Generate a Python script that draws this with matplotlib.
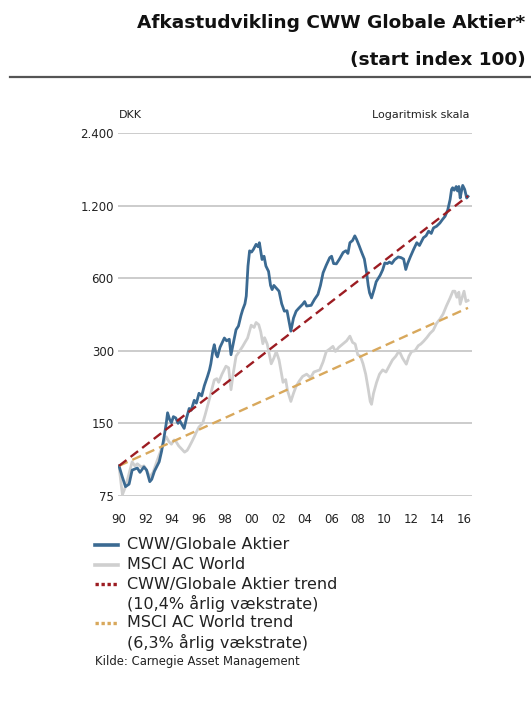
import matplotlib
matplotlib.use("Agg")
import matplotlib.pyplot as plt
from matplotlib.lines import Line2D

# ---------------- data ----------------
cww_years = [1990.0, 1990.25, 1990.49, 1990.76, 1990.99, 1991.19, 1991.38, 1991.58, 1991.88, 1992.08,
             1992.32, 1992.47, 1992.67, 1993.03, 1993.21, 1993.40, 1993.56, 1993.66, 1993.81, 1993.95,
             1994.10, 1994.28, 1994.45, 1994.55, 1994.75, 1994.91, 1995.09, 1995.29, 1995.44, 1995.67,
             1995.83, 1996.03, 1996.23, 1996.43, 1996.67, 1996.82, 1996.92, 1997.07, 1997.18, 1997.32,
             1997.42, 1997.61, 1997.94, 1998.11, 1998.31, 1998.44, 1998.60, 1998.82, 1999.0, 1999.19,
             1999.32, 1999.49, 1999.59, 1999.72, 1999.84, 1999.99, 2000.13, 2000.33, 2000.48, 2000.58,
             2000.78, 2000.93, 2001.07, 2001.27, 2001.42, 2001.54, 2001.67, 2001.86, 2002.06, 2002.26,
             2002.46, 2002.66, 2002.80, 2002.95, 2003.15, 2003.35, 2003.54, 2003.84, 2003.99, 2004.14,
             2004.48, 2004.73, 2004.99, 2005.18, 2005.38, 2005.62, 2005.88, 2006.02, 2006.17, 2006.38,
             2006.61, 2006.89, 2007.10, 2007.25, 2007.40, 2007.60, 2007.77, 2007.90, 2008.09, 2008.29,
             2008.49, 2008.66, 2008.78, 2008.88, 2009.03, 2009.23, 2009.38, 2009.54, 2009.68, 2009.87,
             2010.03, 2010.22, 2010.37, 2010.56, 2010.76, 2011.04, 2011.26, 2011.45, 2011.61, 2011.75,
             2011.95, 2012.20, 2012.44, 2012.64, 2012.94, 2013.14, 2013.33, 2013.53, 2013.70, 2013.93,
             2014.18, 2014.37, 2014.57, 2014.77, 2014.95, 2015.06, 2015.14, 2015.26, 2015.41, 2015.51,
             2015.61, 2015.71, 2015.81, 2015.90, 2016.05, 2016.20, 2016.30]
cww_values = [100, 90, 82, 84, 96, 97, 98, 94, 99, 96,
              86, 88, 95, 104, 115, 132, 150, 166, 156, 151,
              160, 158, 150, 155, 148, 143, 158, 173, 170, 187,
              182, 200, 195, 215, 235, 250, 265, 300, 318, 290,
              283, 310, 339, 330, 335, 289, 320, 367, 380, 420,
              444, 470, 506, 674, 779, 770, 790, 829, 810, 842,
              717, 740, 674, 640, 560, 538, 560, 545, 530, 470,
              438, 440, 400, 362, 410, 438, 450, 468, 480, 460,
              463, 490, 514, 560, 632, 680, 730, 740, 690, 688,
              720, 767, 780, 760, 842, 860, 899, 870, 820, 767,
              720, 632, 560, 522, 497, 540, 580, 600, 617, 650,
              694, 690, 700, 690, 715, 735, 730, 720, 652, 690,
              735, 790, 842, 820, 883, 900, 940, 920, 970, 985,
              1016, 1050, 1083, 1150, 1272, 1400, 1423, 1390, 1440, 1380,
              1440, 1290, 1380, 1455, 1400, 1290, 1310]

msci_years = [1990.0, 1990.15, 1990.26, 1990.49, 1990.74, 1990.99, 1991.19, 1991.38, 1991.68, 1991.88,
              1992.08, 1992.32, 1992.57, 1992.87, 1993.16, 1993.36, 1993.56, 1993.76, 1993.95, 1994.15,
              1994.30, 1994.50, 1994.75, 1994.94, 1995.14, 1995.29, 1995.49, 1995.67, 1995.83, 1996.03,
              1996.30, 1996.48, 1996.67, 1996.82, 1996.97, 1997.18, 1997.37, 1997.51, 1997.76, 1998.06,
              1998.26, 1998.44, 1998.60, 1998.82, 1999.10, 1999.32, 1999.49, 1999.69, 1999.96, 2000.18,
              2000.33, 2000.53, 2000.68, 2000.84, 2000.97, 2001.17, 2001.47, 2001.67, 2001.85, 2002.06,
              2002.36, 2002.56, 2002.70, 2002.95, 2003.15, 2003.35, 2003.59, 2003.84, 2004.14, 2004.44,
              2004.68, 2005.13, 2005.38, 2005.62, 2005.87, 2006.12, 2006.31, 2006.56, 2006.89, 2007.15,
              2007.40, 2007.60, 2007.80, 2007.99, 2008.19, 2008.39, 2008.59, 2008.79, 2008.93, 2009.03,
              2009.18, 2009.41, 2009.63, 2009.87, 2010.12, 2010.37, 2010.61, 2010.86, 2011.11, 2011.36,
              2011.65, 2011.85, 2012.05, 2012.30, 2012.55, 2012.74, 2012.94, 2013.19, 2013.43, 2013.68,
              2013.93, 2014.17, 2014.42, 2014.67, 2014.95, 2015.16, 2015.31, 2015.46, 2015.61, 2015.71,
              2015.86, 2016.00, 2016.15, 2016.30]
msci_values = [100, 85, 76, 82, 92, 104, 100, 102, 99, 100,
               96, 90, 94, 105, 116, 125, 132, 126, 123, 128,
               126, 121, 117, 114, 116, 120, 126, 132, 138, 145,
               150, 162, 177, 190, 205, 227, 230, 222, 240, 259,
               255, 207, 240, 285, 300, 313, 325, 339, 383, 375,
               393, 385, 360, 321, 340, 320, 265, 280, 298, 275,
               222, 228, 205, 185, 200, 214, 225, 235, 240, 232,
               245, 250, 270, 298, 305, 313, 298, 310, 321, 330,
               345, 325, 320, 289, 285, 265, 240, 207, 185, 180,
               200, 222, 240, 250, 245, 260, 275, 285, 300, 280,
               264, 285, 298, 300, 315, 320, 328, 340, 354, 365,
               390, 405, 426, 460, 497, 530, 530, 500, 525, 468,
               500, 530, 480, 485]

trend_years = [1990.0, 2016.3]
cww_trend = [100, 1315]
msci_trend = [100, 452]

y_ticks = [75, 150, 300, 600, 1200, 2400]
y_labels = ["75", "150", "300", "600", "1.200", "2.400"]
x_ticks = [1990, 1992, 1994, 1996, 1998, 2000, 2002, 2004, 2006, 2008, 2010, 2012, 2014, 2016]
x_labels = ["90", "92", "94", "96", "98", "00", "02", "04", "06", "08", "10", "12", "14", "16"]

legend_labels = ["CWW/Globale Aktier", "MSCI AC World", "CWW/Globale Aktier trend",
                 "(10,4% årlig vækstrate)", "MSCI AC World trend", "(6,3% årlig vækstrate)"]

# ---------------- style ----------------
BLUE = "#3b6a92"
GRAY = "#cfcfcf"
RED = "#9c1c22"
ORANGE = "#d8a85c"
GRID = "#c8c8c8"
TEXT = "#222222"
plt.rcParams["font.family"] = ["DejaVu Sans"]

W, H = 531, 708
fig = plt.figure(figsize=(W / 100, H / 100), dpi=100)


def fx(px):
    return px / W


def fy(py):
    return 1 - py / H


ax = fig.add_axes([fx(118), fy(496), fx(472) - fx(118), fy(133) - fy(496)])
ax.set_yscale("log")
ax.set_ylim(75, 2400)
ax.set_xlim(1989.925, 2016.60)
ax.set_yticks(y_ticks)
ax.set_yticklabels(y_labels)
ax.minorticks_off()
ax.set_xticks(x_ticks)
ax.set_xticklabels(x_labels)
ax.tick_params(axis="both", length=0, labelsize=8.5, colors=TEXT)
ax.tick_params(axis="y", pad=3)
ax.tick_params(axis="x", pad=12)
for s in ax.spines.values():
    s.set_visible(False)
ax.grid(axis="y", color=GRID, lw=1.3)
ax.set_axisbelow(True)

ax.plot(msci_years, msci_values, color=GRAY, lw=2.0, zorder=2)
ax.plot(cww_years, cww_values, color=BLUE, lw=2.0, zorder=3)
ax.plot(trend_years, msci_trend, color=ORANGE, lw=1.7, dashes=(4, 2.2), zorder=4)
ax.plot(trend_years, cww_trend, color=RED, lw=1.7, dashes=(4, 2.2), zorder=5)

fig.text(fx(119), fy(115), "DKK", fontsize=8, color=TEXT, va="center", ha="left")
fig.text(fx(470), fy(115), "Logaritmisk skala", fontsize=8, color=TEXT, va="center", ha="right")

# header
fig.text(fx(525), fy(23), "Afkastudvikling CWW Globale Aktier*", fontsize=13.3,
         fontweight="bold", color="#111111", ha="right", va="center")
fig.text(fx(526), fy(60), "(start index 100)", fontsize=13.3,
         fontweight="bold", color="#111111", ha="right", va="center")
fig.add_artist(Line2D([fx(10), fx(531)], [fy(77), fy(77)], color="#555555", lw=1.6))

# legend
leg_rows = [545, 564.5, 584, 603, 622.5, 642]
handles = [(BLUE, "-"), (GRAY, "-"), (RED, ":"), None, (ORANGE, ":"), None]
for row, lab, h in zip(leg_rows, legend_labels, handles):
    if h is not None:
        col, ls = h
        if ls == "-":
            fig.add_artist(Line2D([fx(95), fx(118)], [fy(row), fy(row)], color=col, lw=2.6))
        else:
            fig.add_artist(Line2D([fx(95), fx(118)], [fy(row), fy(row)], color=col, lw=2.4,
                                  dashes=(1.0, 0.8)))
    fig.text(fx(127), fy(row), lab, fontsize=11.5, color=TEXT, ha="left", va="center")

fig.text(fx(95), fy(662), "Kilde: Carnegie Asset Management", fontsize=8.4, color=TEXT,
         ha="left", va="center")

fig.savefig("out.png", dpi=100)
